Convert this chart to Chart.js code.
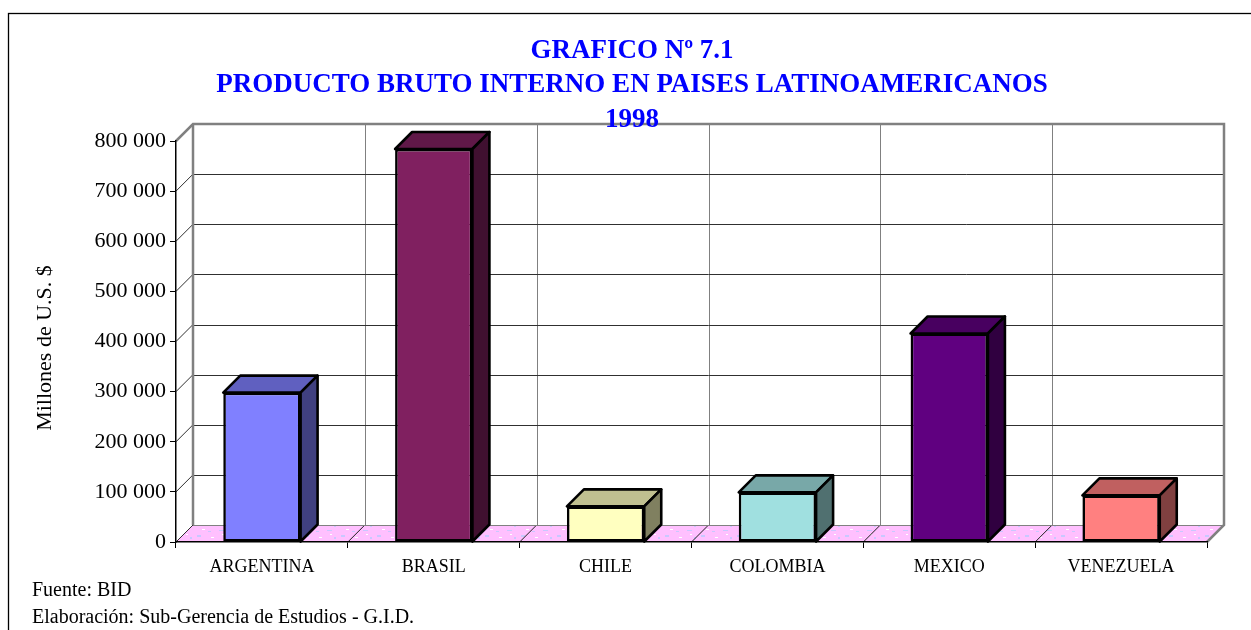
<!DOCTYPE html>
<html>
<head>
<meta charset="utf-8">
<script src="https://cdn.jsdelivr.net/npm/chart.js@4/dist/chart.umd.min.js"></script>
<style>
  html, body { margin: 0; padding: 0; background: #fff; }
  #wrap { width: 1251px; height: 630px; }
</style>
</head>
<body>
<div id="wrap"><canvas id="pbi" width="1251" height="630"></canvas></div>
<script>
const paises = ["ARGENTINA", "BRASIL", "CHILE", "COLOMBIA", "MEXICO", "VENEZUELA"];
const pbi1998 = [298000, 784000, 71000, 99000, 416000, 93000];
const yTicks = [0, 100000, 200000, 300000, 400000, 500000, 600000, 700000, 800000];

const titulo = ["GRAFICO Nº 7.1", "PRODUCTO BRUTO INTERNO EN PAISES LATINOAMERICANOS", "1998"];
const tituloEjeY = "Millones de U.S. $";
const notas = ["Fuente: BID", "Elaboración: Sub-Gerencia de Estudios - G.I.D."];

// front / top / side shades per column
const frente = ["#8080FF", "#802060", "#FFFFC0", "#A0E0E0", "#600080", "#FF8080"];
const techo  = ["#6060C0", "#601848", "#C0C090", "#78A8A8", "#480060", "#C06060"];
const lado   = ["#404080", "#401030", "#808060", "#507070", "#300040", "#804040"];

const SERIF = "'Liberation Serif', 'Times New Roman', serif";
const DEPTH = 17;

function miles(v) {
  return String(v).replace(/\B(?=(\d{3})+(?!\d))/g, " ");
}

function floorPattern(ctx) {
  const c = document.createElement("canvas");
  c.width = 36; c.height = 12;
  const g = c.getContext("2d");
  g.fillStyle = "#FFC0FF";
  g.fillRect(0, 0, 36, 12);
  g.fillStyle = "#C8C8FF";
  g.fillRect(3, 2, 5, 1); g.fillRect(17, 7, 4, 2); g.fillRect(28, 3, 3, 1); g.fillRect(10, 9, 2, 2);
  g.fillStyle = "#FFFFFF";
  g.fillRect(22, 1, 3, 1); g.fillRect(6, 6, 2, 1); g.fillRect(31, 9, 3, 1);
  return ctx.createPattern(c, "repeat");
}

function quad(ctx, pts, fill, stroke, lw) {
  ctx.beginPath();
  ctx.moveTo(pts[0][0], pts[0][1]);
  for (let i = 1; i < pts.length; i++) ctx.lineTo(pts[i][0], pts[i][1]);
  ctx.closePath();
  if (fill) { ctx.fillStyle = fill; ctx.fill(); }
  if (stroke) { ctx.strokeStyle = stroke; ctx.lineWidth = lw; ctx.stroke(); }
}

// walls, floor and gridlines go under the axes and bars
const walls = {
  id: "walls",
  beforeDraw(chart) {
    const { ctx, chartArea: a, scales: { x, y } } = chart;
    const d = DEPTH;
    ctx.save();
    ctx.fillStyle = "#fff";
    ctx.fillRect(0, 0, chart.width, chart.height);

    ctx.strokeStyle = "#000";
    ctx.lineWidth = 1.3;
    ctx.strokeRect(8.5, 13.5, chart.width + 20, chart.height + 20);

    // floor
    quad(ctx, [[a.left, a.bottom], [a.right, a.bottom], [a.right + d, a.bottom - d], [a.left + d, a.bottom - d]],
      floorPattern(ctx), null, 0);

    // floor dividers
    ctx.strokeStyle = "#202020";
    ctx.lineWidth = 1;
    for (let i = 0; i <= paises.length; i++) {
      const xb = x.getPixelForValue(i - 0.5);
      ctx.beginPath();
      ctx.moveTo(xb, a.bottom);
      ctx.lineTo(xb + d, a.bottom - d);
      ctx.stroke();
    }

    // back wall verticals
    ctx.strokeStyle = "#808080";
    for (let i = 1; i < paises.length; i++) {
      const xb = Math.round(x.getPixelForValue(i - 0.5) + d) + 0.5;
      ctx.beginPath();
      ctx.moveTo(xb, a.top - d);
      ctx.lineTo(xb, a.bottom - d);
      ctx.stroke();
    }

    // horizontal gridlines on back and side walls
    yTicks.forEach((v) => {
      const yf = y.getPixelForValue(v);
      const yb = Math.round(yf - d) + 0.5;
      ctx.strokeStyle = v === 0 ? "#808080" : "#303030";
      ctx.beginPath();
      ctx.moveTo(a.left + d, yb);
      ctx.lineTo(a.right + d, yb);
      ctx.stroke();
      ctx.strokeStyle = "#303030";
      ctx.beginPath();
      ctx.moveTo(a.left, yf);
      ctx.lineTo(a.left + d, yf - d);
      ctx.stroke();
    });

    // wall outline
    ctx.strokeStyle = "#808080";
    ctx.lineWidth = 2.5;
    ctx.beginPath();
    ctx.moveTo(a.left, a.top);
    ctx.lineTo(a.left + d, a.top - d);
    ctx.lineTo(a.right + d, a.top - d);
    ctx.lineTo(a.right + d, a.bottom - d);
    ctx.lineTo(a.right, a.bottom);
    ctx.stroke();
    ctx.beginPath();
    ctx.moveTo(a.left + d, a.top - d);
    ctx.lineTo(a.left + d, a.bottom - d);
    ctx.stroke();
    ctx.restore();
  },

  // top and right faces of each column
  afterDatasetsDraw(chart) {
    const { ctx } = chart;
    const d = DEPTH;
    const meta = chart.getDatasetMeta(0);
    ctx.save();
    ctx.lineJoin = "round";
    meta.data.forEach((bar, i) => {
      const p = bar.getProps(["x", "y", "base", "width"], true);
      const x1 = p.x - p.width / 2, x2 = p.x + p.width / 2;
      quad(ctx, [[x1, p.y], [x2, p.y], [x2 + d, p.y - d], [x1 + d, p.y - d]], techo[i], "#000", 2.6);
      quad(ctx, [[x2, p.y], [x2 + d, p.y - d], [x2 + d, p.base - d], [x2, p.base]], lado[i], "#000", 2.6);
    });
    ctx.restore();
  },

  afterDraw(chart) {
    const { ctx } = chart;
    ctx.save();
    ctx.fillStyle = "#0000FF";
    ctx.font = "bold 27px " + SERIF;
    ctx.textAlign = "center";
    ctx.textBaseline = "alphabetic";
    [58, 92, 127].forEach((yy, i) => ctx.fillText(titulo[i], 632, yy));

    ctx.fillStyle = "#000";
    ctx.font = "22px " + SERIF;
    ctx.save();
    ctx.translate(45, 348);
    ctx.rotate(-Math.PI / 2);
    ctx.textBaseline = "middle";
    ctx.fillText(tituloEjeY, 0, 0);
    ctx.restore();

    ctx.font = "20px " + SERIF;
    ctx.textAlign = "left";
    ctx.fillText(notas[0], 32, 596);
    ctx.fillText(notas[1], 32, 623);
    ctx.restore();
  },
};

new Chart(document.getElementById("pbi"), {
  type: "bar",
  data: {
    labels: paises,
    datasets: [{
      data: pbi1998,
      backgroundColor: frente,
      borderColor: "#000",
      borderWidth: 2.6,
      borderSkipped: false,
      barPercentage: 0.45,
      categoryPercentage: 1,
    }],
  },
  options: {
    responsive: false,
    animation: false,
    layout: { padding: { top: 141, right: 44, bottom: 0, left: 0 } },
    plugins: {
      legend: { display: false },
      tooltip: { enabled: false },
    },
    scales: {
      x: {
        grid: { display: true, drawOnChartArea: false, tickLength: 6, color: "#000", offset: true },
        border: { display: true, color: "#000", width: 1.5 },
        ticks: { font: { family: SERIF, size: 18 }, color: "#000", padding: 8, maxRotation: 0 },
        afterFit(s) { s.height = 88; },
      },
      y: {
        min: 0,
        max: 800000,
        afterBuildTicks(s) { s.ticks = yTicks.map((v) => ({ value: v })); },
        ticks: { callback: (v) => miles(v), font: { family: SERIF, size: 22 }, color: "#000", padding: 4 },
        grid: { display: true, drawOnChartArea: false, tickLength: 6, color: "#000" },
        border: { display: true, color: "#000", width: 1.5 },
        afterFit(s) { s.width = 176; },
      },
    },
  },
  plugins: [walls],
});
</script>
</body>
</html>
